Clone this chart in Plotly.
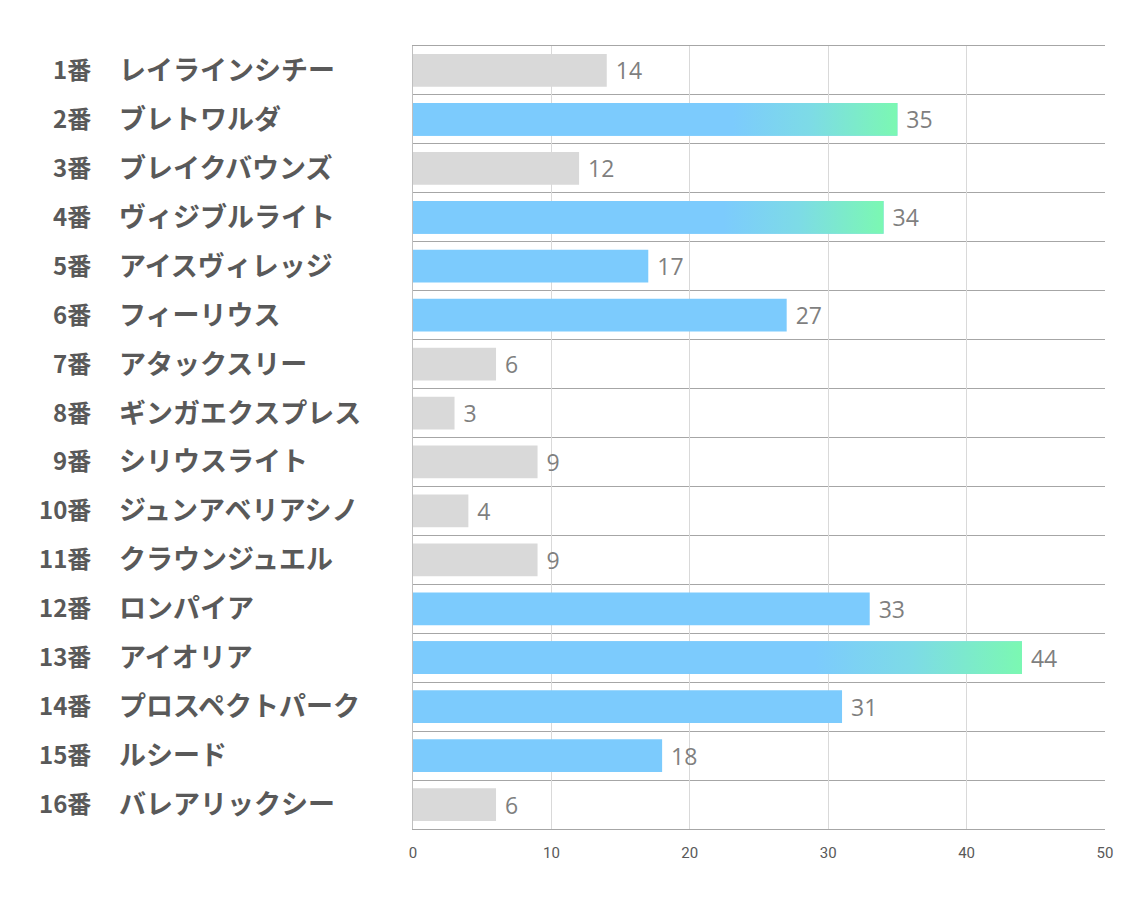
import plotly.graph_objects as go

numbers = ["1番", "2番", "3番", "4番", "5番", "6番", "7番", "8番",
           "9番", "10番", "11番", "12番", "13番", "14番", "15番", "16番"]
names = ["レイラインシチー", "ブレトワルダ", "ブレイクバウンズ", "ヴィジブルライト",
         "アイスヴィレッジ", "フィーリウス", "アタックスリー", "ギンガエクスプレス",
         "シリウスライト", "ジュンアベリアシノ", "クラウンジュエル", "ロンパイア",
         "アイオリア", "プロスペクトパーク", "ルシード", "バレアリックシー"]
values = [14, 35, 12, 34, 17, 27, 6, 3, 9, 4, 9, 33, 44, 31, 18, 6]
highlight = [0, 1, 0, 1, 1, 1, 0, 0, 0, 0, 0, 1, 1, 1, 1, 0]
gradient = [0, 1, 0, 1, 0, 0, 0, 0, 0, 0, 0, 0, 1, 0, 0, 0]
x_ticks = [0, 10, 20, 30, 40, 50]

GREY = "#d9d9d9"
BLUE = "#7ccbfd"
GREEN = "#7bf8b2"
BAR_W = 0.67

pos = list(range(len(values)))
colors = [BLUE if h else GREY for h in highlight]

fig = go.Figure()
fig.add_trace(go.Bar(
    x=values, y=pos, orientation="h", width=BAR_W,
    marker=dict(color=colors, line=dict(width=0)),
    text=[" " + str(v) for v in values], textposition="outside",
    textfont=dict(family="Open Sans, sans-serif", size=23, color="#7f7f7f"),
    hoverinfo="skip", showlegend=False,
))

# gradient overlay for the top bars
for i, v in enumerate(values):
    if not gradient[i]:
        continue
    lo, hi = i - BAR_W / 2, i + BAR_W / 2
    fig.add_trace(go.Scatter(
        x=[0, v, v, 0, 0], y=[lo, lo, hi, hi, lo],
        mode="lines", fill="toself", line=dict(width=0),
        fillgradient=dict(type="horizontal",
                          colorscale=[[0, BLUE], [0.66, BLUE], [0.82, "#7ddbe6"], [1, GREEN]]),
        hoverinfo="skip", showlegend=False,
    ))

# two-part category labels: number right-aligned, name left-aligned
for i in pos:
    fig.add_annotation(x=0, xref="paper", y=i, yref="y", text=numbers[i],
                       xanchor="right", xshift=-320, yshift=2, showarrow=False,
                       font=dict(family="Noto Sans CJK JP", size=24,
                                 color="#595959", weight="bold"))
    fig.add_annotation(x=0, xref="paper", y=i, yref="y", text=names[i],
                       xanchor="left", xshift=-296, yshift=2, showarrow=False,
                       font=dict(family="Noto Sans CJK JP", size=27,
                                 color="#595959", weight="bold"))

fig.update_layout(
    width=1134, height=907,
    margin=dict(l=405, r=37, t=38, b=86),
    plot_bgcolor="white", paper_bgcolor="white",
    xaxis=dict(range=[0, 50], tickvals=x_ticks, showgrid=True,
               gridcolor="#d9d9d9", gridwidth=1, zeroline=False,
               showline=True, mirror=True, linecolor="#a6a6a6",
               ticks="", ticklabelstandoff=10,
               tickfont=dict(family="Liberation Sans Narrow, Roboto, sans-serif",
                             size=15, color="#595959")),
    yaxis=dict(range=[15.5, -0.5], tickvals=pos, showticklabels=False,
               showgrid=False, zeroline=False, showline=True, linecolor="#bfbfbf",
               minor=dict(tick0=-0.5, dtick=1, showgrid=True,
                          gridcolor="#a6a6a6", gridwidth=1)),
)

fig.write_html("out.html")
